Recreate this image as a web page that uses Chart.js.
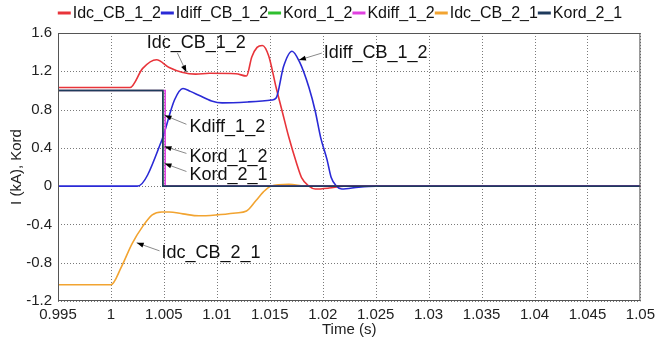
<!DOCTYPE html>
<html>
<head>
<meta charset="utf-8">
<script src="https://cdn.jsdelivr.net/npm/chart.js@4"></script>
<style>
  html, body { margin: 0; padding: 0; background: #fff; }
  #wrap { width: 660px; height: 350px; }
</style>
</head>
<body>
<div id="wrap"><canvas id="c"></canvas></div>
<script>
// series: time (s) and values
const tIdcCB12 = [0.995, 1.0018, 1.003, 1.0043, 1.0055, 1.0067, 1.008, 1.0093, 1.0118, 1.0128, 1.0133, 1.0138, 1.0143, 1.0149, 1.0156, 1.0162, 1.0168, 1.0175, 1.018, 1.0187, 1.0193, 1.0206, 1.022, 1.05];
const vIdcCB12 = [1.03, 1.03, 1.23, 1.32, 1.24, 1.19, 1.17, 1.18, 1.175, 1.15, 1.35, 1.45, 1.47, 1.36, 1.03, 0.77, 0.51, 0.25, 0.09, 0.0, -0.03, -0.02, 0, 0];

const tIdiffCB12 = [0.995, 1.0025, 1.0048, 1.006, 1.0068, 1.0075, 1.0083, 1.0095, 1.0105, 1.013, 1.0152, 1.0156, 1.0163, 1.0171, 1.0178, 1.0187, 1.0193, 1.0198, 1.0204, 1.0208, 1.0213, 1.0218, 1.0234, 1.025, 1.05];
const vIdiffCB12 = [0, 0, 0.48, 0.9, 1.02, 0.99, 0.95, 0.89, 0.87, 0.88, 0.9, 0.92, 1.25, 1.41, 1.3, 1.03, 0.78, 0.51, 0.28, 0.09, 0.0, -0.03, -0.01, 0, 0];

const tIdcCB21 = [0.995, 1.0, 1.001, 1.002, 1.003, 1.0039, 1.0048, 1.0055, 1.0068, 1.0083, 1.01, 1.0118, 1.0128, 1.0137, 1.0144, 1.0151, 1.0168, 1.0185, 1.05];
const vIdcCB21 = [-1.03, -1.03, -0.84, -0.6, -0.42, -0.3, -0.27, -0.27, -0.29, -0.31, -0.3, -0.28, -0.26, -0.15, -0.06, 0.0, 0.02, 0.0, 0.0];

const tKord = [0.995, 1.0049, 1.0049, 1.05];
const vKord12 = [1, 1, 0, 0];
const vKord21 = [1, 1, 0, 0];
const tKdiff = [0.995, 1.00512, 1.00512, 1.05];
const vKdiff12 = [1, 1, 0, 0];

const seriesNames = ['Idc_CB_1_2', 'Idiff_CB_1_2', 'Kord_1_2', 'Kdiff_1_2', 'Idc_CB_2_1', 'Kord_2_1'];
const seriesColors = ['#e8343a', '#2a2ad6', '#2fbf2f', '#e040e0', '#f2a431', '#1e3a5c'];

const xTicks = [0.995, 1, 1.005, 1.01, 1.015, 1.02, 1.025, 1.03, 1.035, 1.04, 1.045, 1.05];
const yTicks = [-1.2, -0.8, -0.4, 0, 0.4, 0.8, 1.2, 1.6];

// callouts: label, text pos (t, y), arrow from -> to
const callouts = [
  { text: 'Idc_CB_1_2',   tx: 1.00337, ty: 1.495, x1: 1.00628, y1: 1.39,  x2: 1.00713, y2: 1.19 },
  { text: 'Idiff_CB_1_2', tx: 1.0201,  ty: 1.39,  x1: 1.01991, y1: 1.39,  x2: 1.01775, y2: 1.317 },
  { text: 'Kdiff_1_2',    tx: 1.00741, ty: 0.614, x1: 1.00713, y1: 0.646, x2: 1.00506, y2: 0.74 },
  { text: 'Kord_1_2',     tx: 1.00741, ty: 0.30,  x1: 1.00713, y1: 0.342, x2: 1.00506, y2: 0.415 },
  { text: 'Kord_2_1',     tx: 1.00741, ty: 0.111, x1: 1.00713, y1: 0.153, x2: 1.00506, y2: 0.237 },
  { text: 'Idc_CB_2_1',   tx: 1.00478, ty: -0.697, x1: 1.00459, y1: -0.676, x2: 1.00243, y2: -0.592 }
];

const pts = (ts, vs) => ts.map((t, i) => ({ x: t, y: vs[i] }));
const seriesData = [
  pts(tIdcCB12, vIdcCB12),
  pts(tIdiffCB12, vIdiffCB12),
  pts(tKord, vKord12),
  pts(tKdiff, vKdiff12),
  pts(tIdcCB21, vIdcCB21),
  pts(tKord, vKord21)
];
const drawOrder = [3, 2, 4, 1, 5, 0];
const stepSeries = [false, false, true, true, false, true];
const FONT = '"Liberation Sans", Arial, sans-serif';

// dotted grid from the scales' own tick positions
const dottedGrid = {
  id: 'dottedGrid',
  beforeDatasetsDraw(chart) {
    const { ctx, chartArea: a, scales } = chart;
    ctx.save();
    ctx.strokeStyle = '#7a7a7a';
    ctx.lineWidth = 1;
    ctx.setLineDash([1, 2]);
    scales.x.ticks.forEach(t => {
      const x = Math.round(scales.x.getPixelForValue(t.value)) + 0.5;
      ctx.beginPath(); ctx.moveTo(x, a.top); ctx.lineTo(x, a.bottom); ctx.stroke();
    });
    scales.y.ticks.forEach(t => {
      const y = Math.round(scales.y.getPixelForValue(t.value)) + 0.5;
      ctx.beginPath(); ctx.moveTo(a.left, y); ctx.lineTo(a.right, y); ctx.stroke();
    });
    ctx.restore();
  }
};

const frame = {
  id: 'frame',
  afterDatasetsDraw(chart) {
    const { ctx, chartArea: a, scales } = chart;
    ctx.save();
    ctx.strokeStyle = '#555';
    ctx.lineWidth = 1;
    ctx.strokeRect(a.left + 0.5, a.top + 0.5, a.right - a.left - 1, a.bottom - a.top - 1);

    ctx.font = '18px ' + FONT;
    ctx.textBaseline = 'middle';
    ctx.textAlign = 'left';
    callouts.forEach(c => {
      const px = scales.x.getPixelForValue(c.tx), py = scales.y.getPixelForValue(c.ty);
      const x1 = scales.x.getPixelForValue(c.x1), y1 = scales.y.getPixelForValue(c.y1);
      const x2 = scales.x.getPixelForValue(c.x2), y2 = scales.y.getPixelForValue(c.y2);
      ctx.fillStyle = '#111';
      ctx.fillText(c.text, px, py);
      ctx.strokeStyle = '#8a8a8a';
      ctx.lineWidth = 1;
      ctx.beginPath();
      ctx.moveTo(x1, y1);
      ctx.lineTo(x2, y2);
      ctx.stroke();
      const ang = Math.atan2(y2 - y1, x2 - x1);
      ctx.fillStyle = '#000';
      ctx.beginPath();
      ctx.moveTo(x2, y2);
      ctx.lineTo(x2 - 7 * Math.cos(ang) + 2.5 * Math.sin(ang), y2 - 7 * Math.sin(ang) - 2.5 * Math.cos(ang));
      ctx.lineTo(x2 - 7 * Math.cos(ang) - 2.5 * Math.sin(ang), y2 - 7 * Math.sin(ang) + 2.5 * Math.cos(ang));
      ctx.closePath();
      ctx.fill();
    });
    ctx.restore();
  }
};

// compact legend: short line then text, items packed tight, centred
const tightLegend = {
  id: 'tightLegend',
  afterDraw(chart) {
    const { ctx } = chart;
    const ds = chart.data.datasets;
    ctx.save();
    ctx.font = '16px ' + FONT;
    ctx.textBaseline = 'middle';
    const lineW = 13, gap = 2;
    const total = ds.reduce((s, d) => s + lineW + gap + ctx.measureText(d.label).width, 0);
    let x = 340 - total / 2;
    const y = 13;
    ds.forEach(d => {
      ctx.strokeStyle = d.borderColor;
      ctx.lineWidth = 3;
      ctx.beginPath();
      ctx.moveTo(x, y);
      ctx.lineTo(x + lineW, y);
      ctx.stroke();
      x += lineW + gap;
      ctx.fillStyle = '#111';
      ctx.fillText(d.label, x, y + 1);
      x += ctx.measureText(d.label).width;
    });
    ctx.restore();
  }
};

new Chart(document.getElementById('c'), {
  type: 'line',
  data: {
    datasets: seriesNames.map((name, i) => ({
      label: name,
      data: seriesData[i],
      borderColor: seriesColors[i],
      backgroundColor: seriesColors[i],
      borderWidth: 1.6,
      pointRadius: 0,
      tension: stepSeries[i] ? 0 : 0.35,
      cubicInterpolationMode: stepSeries[i] ? 'default' : 'monotone',
      order: drawOrder[i]
    }))
  },
  options: {
    responsive: true,
    maintainAspectRatio: false,
    animation: false,
    layout: { padding: { top: 33, right: 15, left: 0, bottom: 0 } },
    plugins: {
      tooltip: { enabled: false },
      legend: { display: false }
    },
    scales: {
      x: {
        type: 'linear',
        min: 0.995,
        max: 1.05,
        afterBuildTicks: s => { s.ticks = xTicks.map(v => ({ value: v })); },
        afterFit: s => { s.height = 49; },
        grid: { display: false, drawTicks: false, tickLength: 0 },
        border: { display: false },
        ticks: { color: '#222', padding: 5, maxRotation: 0, autoSkip: false, font: { family: FONT, size: 15 }, callback: v => String(v) },
        title: { display: true, text: 'Time (s)', color: '#222', padding: { top: 0, bottom: 11 }, font: { family: FONT, size: 15 } }
      },
      y: {
        min: -1.2,
        max: 1.6,
        afterBuildTicks: s => { s.ticks = yTicks.map(v => ({ value: v })); },
        afterFit: s => { s.width = 58; },
        grid: { display: false, drawTicks: false, tickLength: 0 },
        border: { display: false },
        ticks: { color: '#222', padding: 6, font: { family: FONT, size: 15 }, callback: v => String(Number(v.toFixed(1))) },
        title: { display: true, text: 'I (kA), Kord', color: '#222', padding: { top: 8, bottom: 0 }, font: { family: FONT, size: 15 } }
      }
    }
  },
  plugins: [dottedGrid, frame, tightLegend]
});
</script>
</body>
</html>
